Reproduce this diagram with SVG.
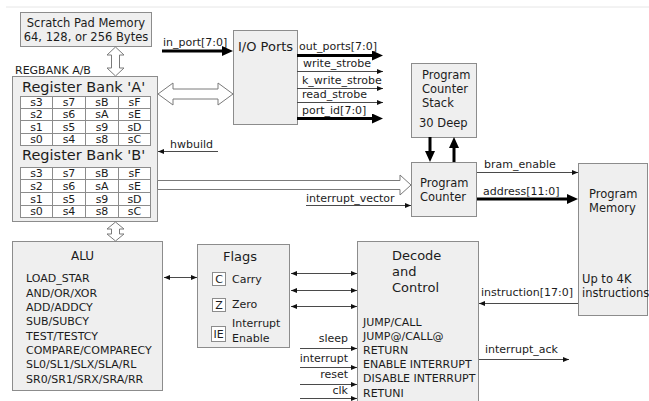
<svg xmlns="http://www.w3.org/2000/svg" width="649" height="401" viewBox="0 0 649 401">
<style>
text{font-family:"DejaVu Sans","Liberation Sans",sans-serif;fill:#1c1c1c;font-size:11px}
.box{fill:#efefef;stroke:#8c8c8c;stroke-width:1}
.cell{fill:#fff;stroke:#8c8c8c;stroke-width:1}
.hollow{fill:#fff;stroke:#7a7a7a;stroke-width:1}
.thin{stroke:#4a4a4a;stroke-width:1;fill:none}
.thick{stroke:#000;stroke-width:3;fill:none}
.grid{stroke:#8c8c8c;stroke-width:1;fill:none}
.lst{font-size:11px}
.t12{font-size:11.5px}
.t15{font-size:14.5px}
.t13{font-size:13px}
.c{text-anchor:middle}
.e{text-anchor:end}
</style>
<defs>
<marker id="a" markerUnits="userSpaceOnUse" markerWidth="7" markerHeight="6" refX="6" refY="2.5" orient="auto-start-reverse"><path d="M0,0 L6,2.5 L0,5 z" fill="#111"/></marker>
<marker id="A" markerUnits="userSpaceOnUse" markerWidth="12" markerHeight="11" refX="0" refY="5" orient="auto"><path d="M0,0 L11,5 L0,10 z" fill="#000"/></marker>
</defs>
<rect width="649" height="401" fill="#fff"/>
<line x1="6" y1="7" x2="649" y2="7" stroke="#e6e6e6" stroke-width="1"/>

<g id="scratchpad">
<rect class="box" x="20.5" y="12.5" width="131" height="34"/>
<text class="t12 c" x="86" y="27">Scratch Pad Memory</text>
<text class="t12 c" x="86" y="41">64, 128, or 256 Bytes</text>
</g>

<g id="regbank">
<text x="15" y="74" class="lst">REGBANK A/B</text>
<rect class="box" x="12.5" y="76.5" width="145" height="145"/>
<text class="t15" x="22" y="92">Register Bank 'A'</text>
<g id="tableA">
<rect class="cell" x="20.5" y="96.5" width="130" height="49"/>
<path class="grid" d="M20.5,108.5H150.5M20.5,120.5H150.5M20.5,133.5H150.5M52.5,96.5V145.5M85.5,96.5V145.5M118.5,96.5V145.5"/>
<g class="lst">
<text class="c" x="36.5" y="106">s3</text><text class="c" x="69" y="106">s7</text><text class="c" x="102" y="106">sB</text><text class="c" x="134.5" y="106">sF</text>
<text class="c" x="36.5" y="118">s2</text><text class="c" x="69" y="118">s6</text><text class="c" x="102" y="118">sA</text><text class="c" x="134.5" y="118">sE</text>
<text class="c" x="36.5" y="131">s1</text><text class="c" x="69" y="131">s5</text><text class="c" x="102" y="131">s9</text><text class="c" x="134.5" y="131">sD</text>
<text class="c" x="36.5" y="143">s0</text><text class="c" x="69" y="143">s4</text><text class="c" x="102" y="143">s8</text><text class="c" x="134.5" y="143">sC</text>
</g>
</g>
<text class="t15" x="22" y="160">Register Bank 'B'</text>
<g id="tableB">
<rect class="cell" x="20.5" y="167.5" width="130" height="50"/>
<path class="grid" d="M20.5,179.5H150.5M20.5,192.5H150.5M20.5,205.5H150.5M52.5,167.5V217.5M85.5,167.5V217.5M118.5,167.5V217.5"/>
<g class="lst">
<text class="c" x="36.5" y="177">s3</text><text class="c" x="69" y="177">s7</text><text class="c" x="102" y="177">sB</text><text class="c" x="134.5" y="177">sF</text>
<text class="c" x="36.5" y="190">s2</text><text class="c" x="69" y="190">s6</text><text class="c" x="102" y="190">sA</text><text class="c" x="134.5" y="190">sE</text>
<text class="c" x="36.5" y="203">s1</text><text class="c" x="69" y="203">s5</text><text class="c" x="102" y="203">s9</text><text class="c" x="134.5" y="203">sD</text>
<text class="c" x="36.5" y="215">s0</text><text class="c" x="69" y="215">s4</text><text class="c" x="102" y="215">s8</text><text class="c" x="134.5" y="215">sC</text>
</g>
</g>
</g>

<g id="ioports">
<rect class="box" x="233.5" y="30.5" width="64" height="94"/>
<text x="238" y="51" style="font-size:13px">I/O Ports</text>
</g>

<g id="pcstack">
<rect class="box" x="411.5" y="63.5" width="65" height="74"/>
<text class="t12" x="422" y="79">Program</text>
<text class="t12" x="422" y="93">Counter</text>
<text class="t12" x="422" y="107">Stack</text>
<text class="t12" x="419" y="127">30 Deep</text>
</g>

<g id="pc">
<rect class="box" x="411.5" y="162.5" width="65" height="54"/>
<text class="t12" x="420" y="187">Program</text>
<text class="t12" x="420" y="201">Counter</text>
</g>

<g id="progmem">
<rect class="box" x="578.5" y="163.5" width="69" height="152"/>
<text class="t12" x="589" y="198">Program</text>
<text class="t12" x="589" y="212">Memory</text>
<text class="t12" x="582" y="283">Up to 4K</text>
<text class="t12" x="582" y="297">instructions</text>
</g>

<g id="alu">
<rect class="box" x="12.5" y="241.5" width="150" height="149"/>
<text class="c" x="82.5" y="260" style="font-size:12px">ALU</text>
<text class="lst" x="26" y="282">LOAD_STAR</text>
<text class="lst" x="26" y="296.5">AND/OR/XOR</text>
<text class="lst" x="26" y="311">ADD/ADDCY</text>
<text class="lst" x="26" y="325">SUB/SUBCY</text>
<text class="lst" x="26" y="339.5">TEST/TESTCY</text>
<text class="lst" x="26" y="354">COMPARE/COMPARECY</text>
<text class="lst" x="26" y="368">SL0/SL1/SLX/SLA/RL</text>
<text class="lst" x="26" y="382.5">SR0/SR1/SRX/SRA/RR</text>
</g>

<g id="flags">
<rect class="box" x="197.5" y="244.5" width="92" height="103"/>
<text class="t13" x="223" y="261">Flags</text>
<rect class="cell" x="212.5" y="272.5" width="13" height="13"/>
<text class="c" x="219" y="283">C</text>
<text x="232" y="283">Carry</text>
<rect class="cell" x="212.5" y="298.5" width="13" height="13"/>
<text class="c" x="219" y="309">Z</text>
<text x="232" y="308">Zero</text>
<rect class="cell" x="211.5" y="326.5" width="14" height="15"/>
<text class="c" x="218.5" y="338">IE</text>
<text x="232" y="327">Interrupt</text>
<text x="232" y="342">Enable</text>
</g>

<g id="decode">
<rect class="box" x="357.5" y="241.5" width="121" height="170"/>
<text class="t13" x="392" y="260">Decode</text>
<text class="t13" x="392" y="276">and</text>
<text class="t13" x="392" y="292">Control</text>
<text class="lst" x="363" y="326">JUMP/CALL</text>
<text class="lst" x="363" y="340">JUMP@/CALL@</text>
<text class="lst" x="363" y="354">RETURN</text>
<text class="lst" x="363" y="368">ENABLE INTERRUPT</text>
<text class="lst" x="363" y="382">DISABLE INTERRUPT</text>
<text class="lst" x="363" y="397">RETUNI</text>
</g>

<g id="connectors">
<path class="hollow" d="M115.5,47 L124,55 L119.5,55 L119.5,68 L124,68 L115.5,76 L107,68 L111.5,68 L111.5,55 L107,55 Z"/>
<path class="hollow" d="M158,94 L173,83 L173,89 L218,89 L218,83 L233,94 L218,105 L218,99 L173,99 L173,105 Z"/>
<path class="hollow" d="M157.5,180.5 L400,180.5 L400,175 L411,185 L400,195 L400,189.5 L157.5,189.5 Z"/>
<path class="hollow" d="M115.5,222 L124,229 L119.5,229 L119.5,234 L124,234 L115.5,241 L107,234 L111.5,234 L111.5,229 L107,229 Z"/>

<text x="163" y="46">in_port[7:0]</text>
<line class="thick" x1="162" y1="51" x2="222" y2="51" marker-end="url(#A)"/>

<text x="299" y="50">out_ports[7:0]</text>
<line class="thick" x1="297" y1="55.5" x2="372" y2="55.5" marker-end="url(#A)"/>
<text x="303" y="67">write_strobe</text>
<line class="thin" x1="297" y1="71.5" x2="383" y2="71.5" marker-end="url(#a)"/>
<text x="302" y="84">k_write_strobe</text>
<line class="thin" x1="297" y1="88.5" x2="383" y2="88.5" marker-end="url(#a)"/>
<text x="302" y="98">read_strobe</text>
<line class="thin" x1="297" y1="102.5" x2="383" y2="102.5" marker-end="url(#a)"/>
<text x="302" y="114">port_id[7:0]</text>
<line class="thick" x1="297" y1="118.5" x2="372" y2="118.5" marker-end="url(#A)"/>

<text x="170" y="148">hwbuild</text>
<line class="thin" x1="218" y1="151.5" x2="158" y2="151.5" marker-end="url(#a)"/>

<line class="thick" x1="430" y1="137" x2="430" y2="151" marker-end="url(#A)"/>
<line class="thick" x1="454" y1="162" x2="454" y2="148" marker-end="url(#A)"/>

<text x="306" y="202">interrupt_vector</text>
<line class="thin" x1="306" y1="205.5" x2="411" y2="205.5" marker-end="url(#a)"/>

<text x="484" y="168">bram_enable</text>
<line class="thin" x1="477" y1="172.5" x2="578" y2="172.5" marker-end="url(#a)"/>
<text x="483" y="195">address[11:0]</text>
<line class="thick" x1="477" y1="199" x2="567" y2="199" marker-end="url(#A)"/>

<text x="481" y="296">instruction[17:0]</text>
<line class="thin" x1="578" y1="303.5" x2="479" y2="303.5" marker-end="url(#a)"/>

<line class="thin" x1="164" y1="277.5" x2="197" y2="277.5" marker-start="url(#a)" marker-end="url(#a)"/>

<line class="thin" x1="291" y1="273.5" x2="357" y2="273.5" marker-start="url(#a)" marker-end="url(#a)"/>
<line class="thin" x1="291" y1="290.5" x2="357" y2="290.5" marker-start="url(#a)" marker-end="url(#a)"/>
<line class="thin" x1="291" y1="306.5" x2="357" y2="306.5" marker-start="url(#a)" marker-end="url(#a)"/>

<text class="e" x="348" y="342">sleep</text>
<line class="thin" x1="300" y1="348.5" x2="357" y2="348.5" marker-end="url(#a)"/>
<text class="e" x="348" y="362">interrupt</text>
<line class="thin" x1="300" y1="367.5" x2="357" y2="367.5" marker-end="url(#a)"/>
<text class="e" x="348" y="378">reset</text>
<line class="thin" x1="300" y1="384.5" x2="357" y2="384.5" marker-end="url(#a)"/>
<text class="e" x="348" y="394">clk</text>
<line class="thin" x1="300" y1="398.5" x2="357" y2="398.5" marker-end="url(#a)"/>

<text x="485" y="353">interrupt_ack</text>
<line class="thin" x1="479" y1="359.5" x2="569" y2="359.5" marker-end="url(#a)"/>
</g>
</svg>
